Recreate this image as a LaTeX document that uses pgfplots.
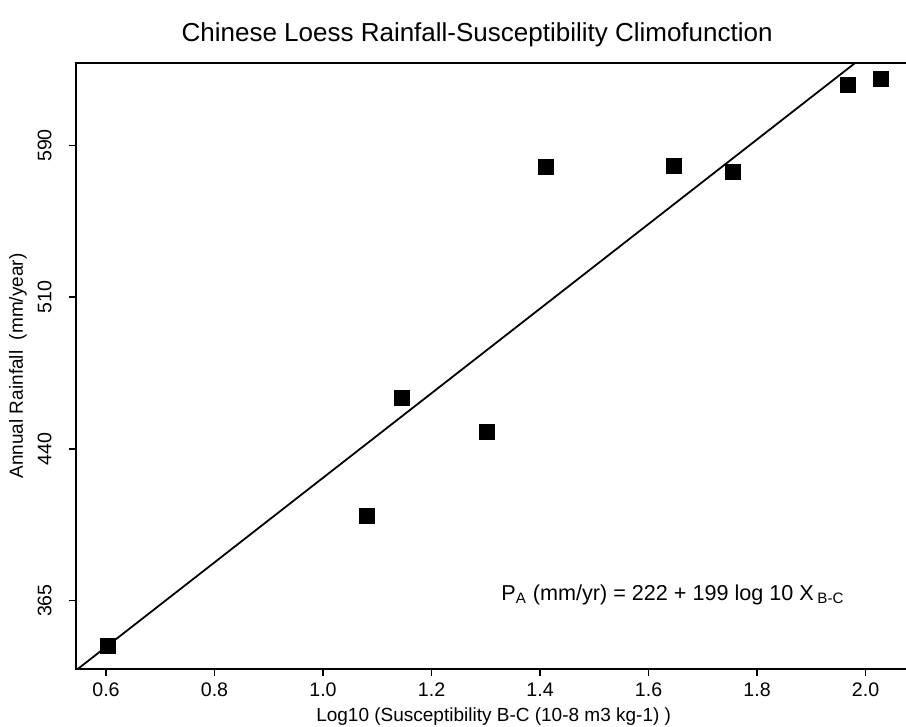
\documentclass[border=0pt]{standalone}
\usepackage{fontspec}
\setmainfont{Liberation Sans}
\usepackage{pgfplots}
\pgfplotsset{compat=1.18}
\begin{document}
\begin{tikzpicture}
\begin{axis}[
  scale only axis,
  width=420pt, height=303pt,
  xmin=0.5442, xmax=2.0923,
  ymin=331.2, ymax=630.8,
  axis line style={line width=1pt},
  tick align=outside,
  tick pos=left,
  major tick length=3.5pt,
  every tick/.style={line width=0.8pt,black},
  xtick={0.6,0.8,1.0,1.2,1.4,1.6,1.8,2.0},
  xticklabel style={/pgf/number format/.cd,fixed,fixed zerofill,precision=1},
  ytick={365,440,515,590},
  yticklabels={365,440,510,590},
  yticklabel style={xshift=-5pt,rotate=90,anchor=south},
  /pgf/number format/assume math mode=true,
  every tick label/.append style={font=\fontsize{9.8}{11}\selectfont},
  every axis title shift=0pt,
  title={Chinese Loess Rainfall-Susceptibility Climofunction},
  title style={at={(axis description cs:0.4779,1.0462)},anchor=center,font=\fontsize{13}{15}\selectfont},
  xlabel={Log10 (Susceptibility B-C (10-8 m3 kg-1) )},
  xlabel style={at={(axis description cs:0.4976,-0.0792)},anchor=center,font=\fontsize{9.5}{11}\selectfont},
  ylabel={Annual Rainfall\ \ (mm/year)},
  ylabel style={at={(axis description cs:-0.0688,0.5)},anchor=center,rotate=0,font=\fontsize{9.5}{11}\selectfont},
]
\addplot[black, line width=0.9pt] coordinates {(0.548,331.2) (1.995,633.8)};
\addplot[only marks, mark=square*, mark size=3.75pt, black] coordinates {
  (0.603,342.6) (1.081,406.9) (1.146,465.2) (1.302,448.4) (1.410,579.6)
  (1.646,580.1) (1.755,577.1) (1.967,619.8) (2.029,622.8)
};
\node[font=\fontsize{10.8}{12}\selectfont] at (axis cs:1.645,367.8)
  {P\textsubscript{A} (mm/yr) = 222 + 199 log 10 X\,\textsubscript{B-C}};
\end{axis}
\pgfresetboundingbox
\path[use as bounding box] (-37.85pt,-29pt) rectangle (415.15pt,334.5pt);
\end{tikzpicture}
\end{document}
